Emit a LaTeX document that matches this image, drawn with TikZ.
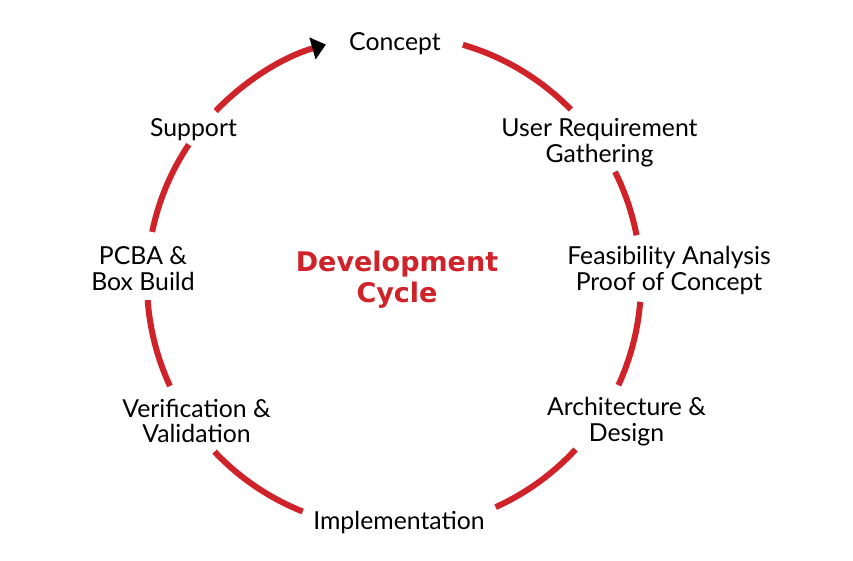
\documentclass[tikz,border=0pt]{standalone}
\usepackage{fontspec}
\setmainfont{Lato}
\newfontfamily\titlefont{DejaVu Sans}
\usetikzlibrary{arrows.meta}
\definecolor{cyclered}{RGB}{207,34,41}
\newcommand{\cycrad}{247}

\begin{document}
\begin{tikzpicture}[x=1pt,y=1pt,
   cycleline/.style={draw=cyclered,line width=6pt},
   stage/.style={anchor=base,align=center,inner sep=0pt,font=\fontsize{24.8}{26}\selectfont},
   title/.style={anchor=base,align=center,inner sep=0pt,text=cyclered,font=\titlefont\bfseries\fontsize{27}{31}\selectfont}]
   \useasboundingbox (-394,-279) rectangle (459,282);
   % labels round the circle (base = last line)
   \node[title] (cycle) at (3,-21) {Development\\Cycle};
   \node[stage] (concept) at (1,231) {Concept};
   \node[stage] (userreq) at (205.5,119) {User Requirement\\Gathering};
   \node[stage] (feasib) at (275,-9) {Feasibility Analysis\\Proof of Concept};
   \node[stage] (archdes) at (232.5,-160) {Architecture \&\\Design};
   \node[stage] (implem) at (5,-247) {Implementation};
   \node[stage] (verval) at (-197.5,-161) {Verification \&\\Validation};
   \node[stage] (pcba) at (-251,-9) {PCBA \&\\Box Build};
   \node[stage] (support) at (-200.5,145) {Support};
   % arcs between the labels
   \foreach \a/\b [count=\i] in {73.8/44.3, 26.5/10.9, -4.6/-24.7, -42.7/-65.7,
                                 -111.7/-136.6, -155.1/-175.8, 168.3/146.2} {
     \coordinate (from\i) at (\a:\cycrad);
     \draw[cycleline] (from\i) arc[start angle=\a,end angle=\b,radius=\cycrad];
   }
   \coordinate (back) at (136.2:\cycrad);
   \draw[cycleline,-{Triangle[color=black,length=14pt,width=22pt]}]
     (back) arc[start angle=136.2,end angle=106,radius=\cycrad];
\end{tikzpicture}
\end{document}
